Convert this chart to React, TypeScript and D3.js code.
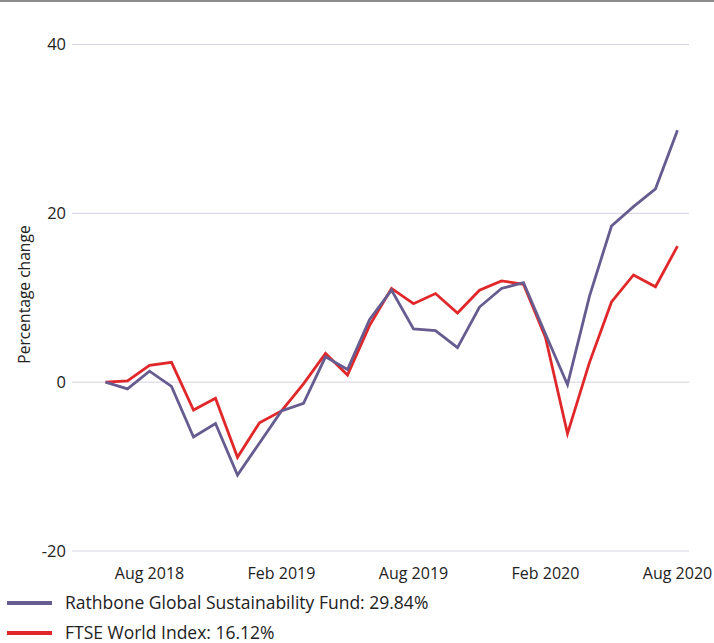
import React, { useEffect, useRef } from "react";
import * as d3 from "d3";

const months = [
  "Jun 2018", "Jul 2018", "Aug 2018", "Sep 2018", "Oct 2018", "Nov 2018", "Dec 2018",
  "Jan 2019", "Feb 2019", "Mar 2019", "Apr 2019", "May 2019", "Jun 2019", "Jul 2019",
  "Aug 2019", "Sep 2019", "Oct 2019", "Nov 2019", "Dec 2019", "Jan 2020", "Feb 2020",
  "Mar 2020", "Apr 2020", "May 2020", "Jun 2020", "Jul 2020", "Aug 2020",
];

const fundValues = [
  0, -0.8, 1.3, -0.5, -6.5, -4.9, -11.0, -7.2, -3.4, -2.5, 3.0, 1.5, 7.4, 10.9,
  6.3, 6.1, 4.1, 8.9, 11.1, 11.8, 5.7, -0.3, 10.2, 18.5, 20.8, 22.9, 29.84,
];

const indexValues = [
  0, 0.15, 2.0, 2.35, -3.3, -1.9, -8.9, -4.8, -3.4, -0.2, 3.4, 0.85, 6.7, 11.1,
  9.3, 10.5, 8.2, 10.9, 12.0, 11.6, 5.3, -6.1, 2.35, 9.5, 12.7, 11.3, 16.12,
];

const xTickLabels = ["Aug 2018", "Feb 2019", "Aug 2019", "Feb 2020", "Aug 2020"];
const yTicks = [-20, 0, 20, 40];

const seriesNames = [
  "Rathbone Global Sustainability Fund: 29.84%",
  "FTSE World Index: 16.12%",
];
const seriesColors = ["#675c8f", "#e0282b"];

const W = 714;
const H = 643;
const FONT = "'Open Sans', sans-serif";
const TEXT = "#222";

export default function App() {
  const ref = useRef<SVGSVGElement | null>(null);

  useEffect(() => {
    const svg = d3.select(ref.current);
    svg.selectAll("*").remove();

    const x = d3.scalePoint<string>().domain(months).range([105.5, 677.5]).padding(0);
    const y = d3.scaleLinear().domain([-20, 40]).range([551, 44.5]);

    // top rule
    svg
      .append("line")
      .attr("x1", 0)
      .attr("x2", W)
      .attr("y1", 1)
      .attr("y2", 1)
      .attr("stroke", "#8c8c8c")
      .attr("stroke-width", 2);

    // gridlines + y labels
    const yAxis = svg.append("g");
    yAxis
      .selectAll("line")
      .data(yTicks)
      .enter()
      .append("line")
      .attr("x1", 72)
      .attr("x2", 689)
      .attr("y1", (d) => y(d))
      .attr("y2", (d) => y(d))
      .attr("stroke", "#d5d1e3")
      .attr("stroke-width", 1);
    yAxis
      .selectAll("text")
      .data(yTicks)
      .enter()
      .append("text")
      .attr("x", 66)
      .attr("y", (d) => y(d))
      .attr("dy", "0.36em")
      .attr("text-anchor", "end")
      .attr("font-family", FONT)
      .attr("font-size", 16.5)
      .attr("fill", TEXT)
      .text((d) => String(d));

    svg
      .append("text")
      .attr("transform", `translate(30,294.5) rotate(-90)`)
      .attr("text-anchor", "middle")
      .attr("font-family", FONT)
      .attr("font-size", 15.6)
      .attr("fill", TEXT)
      .text("Percentage change");

    // x labels
    svg
      .append("g")
      .selectAll("text")
      .data(xTickLabels)
      .enter()
      .append("text")
      .attr("x", (d) => x(d) as number)
      .attr("y", 579)
      .attr("text-anchor", "middle")
      .attr("font-family", FONT)
      .attr("font-size", 16)
      .attr("fill", TEXT)
      .text((d) => d);

    const line = d3
      .line<number>()
      .x((_, i) => x(months[i]) as number)
      .y((d) => y(d));

    [indexValues, fundValues].forEach((vals, k) => {
      svg
        .append("path")
        .datum(vals)
        .attr("fill", "none")
        .attr("stroke", k === 0 ? seriesColors[1] : seriesColors[0])
        .attr("stroke-width", 2.8)
        .attr("d", line);
    });

    // legend
    const legend = svg
      .append("g")
      .selectAll("g")
      .data(seriesNames)
      .enter()
      .append("g")
      .attr("transform", (_, i) => `translate(0,${603 + i * 30})`);
    legend
      .append("line")
      .attr("x1", 7)
      .attr("x2", 52)
      .attr("stroke", (_, i) => seriesColors[i])
      .attr("stroke-width", 4);
    legend
      .append("text")
      .attr("x", 65)
      .attr("y", 6.3)
      .attr("font-family", FONT)
      .attr("font-size", 17.5)
      .attr("fill", TEXT)
      .text((d) => d);
  }, []);

  return (
    <svg
      ref={ref}
      width={W}
      height={H}
      style={{ position: "absolute", left: 0, top: 0, background: "#fff" }}
    />
  );
}
